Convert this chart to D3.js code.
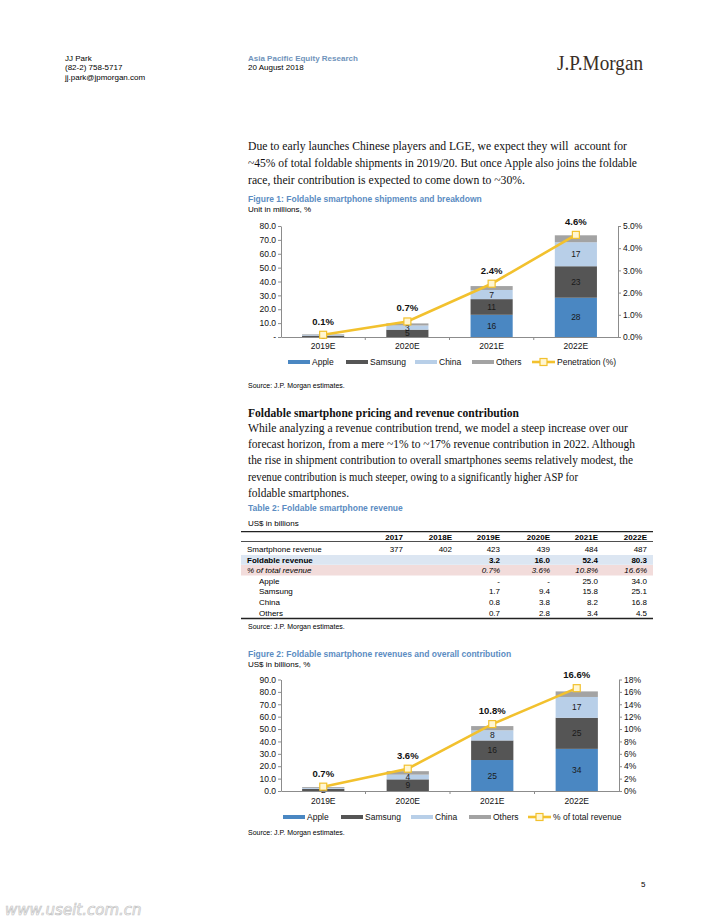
<!DOCTYPE html>
<html><head><meta charset="utf-8">
<script src="https://cdn.jsdelivr.net/npm/d3@7/dist/d3.min.js"></script>
<style>body{margin:0;background:#fff}svg{display:block}</style>
</head><body>
<svg id="page" width="714" height="924"></svg>
<script>
// ---------- DATA ----------
const categories = ["2019E", "2020E", "2021E", "2022E"];
const seriesNames = ["Apple", "Samsung", "China", "Others"];

// Figure 1: shipments (mn units) and penetration (%)
const shipApple   = [0, 0, 16, 28.3];
const shipSamsung = [1, 5.3, 11.3, 22.7];
const shipChina   = [0.6, 3, 6.6, 17.3];
const shipOthers  = [0.4, 1.5, 2.8, 5];
const shipPenetration = [0.1, 0.7, 2.4, 4.6];
const shipLeftTicks  = [0, 10, 20, 30, 40, 50, 60, 70, 80];
const shipRightTicks = [0, 1, 2, 3, 4, 5];

// Figure 2: revenues (US$ bn) and % of total revenue
const revApple   = [0, 0, 25, 34];
const revSamsung = [1.7, 9.4, 15.8, 25.1];
const revChina   = [0.8, 3.8, 8.2, 16.8];
const revOthers  = [0.7, 2.8, 3.4, 4.5];
const revShare   = [0.7, 3.6, 10.8, 16.6];
const revLeftTicks  = [0, 10, 20, 30, 40, 50, 60, 70, 80, 90];
const revRightTicks = [0, 2, 4, 6, 8, 10, 12, 14, 16, 18];

// Table 2
const tableYears = ["2017", "2018E", "2019E", "2020E", "2021E", "2022E"];
const tSmartphone = ["377", "402", "423", "439", "484", "487"];
const tFoldable   = ["", "", "3.2", "16.0", "52.4", "80.3"];
const tShare      = ["", "", "0.7%", "3.6%", "10.8%", "16.6%"];
const tApple      = ["", "", "-", "-", "25.0", "34.0"];
const tSamsung    = ["", "", "1.7", "9.4", "15.8", "25.1"];
const tChina      = ["", "", "0.8", "3.8", "8.2", "16.8"];
const tOthers     = ["", "", "0.7", "2.8", "3.4", "4.5"];

// ---------- STYLE ----------
const sans = "'Liberation Sans', Arial, sans-serif";
const serif = "'Liberation Serif', 'Times New Roman', serif";
const colors = { Apple: "#4a87c2", Samsung: "#555555", China: "#b8cfe8", Others: "#a3a3a3" };
const lineColor = "#f2c12e";
const titleBlue = "#5b8cc2";
const axisGray = "#8c8c8c";

const svg = d3.select("#page");

function txt(x, y, s, o = {}) {
  const t = svg.append("text").attr("x", x).attr("y", y).text(s)
    .attr("font-family", o.family || sans)
    .attr("font-size", o.size || 8)
    .attr("fill", o.fill || "#000");
  if (o.weight) t.attr("font-weight", o.weight);
  if (o.style) t.attr("font-style", o.style);
  if (o.anchor) t.attr("text-anchor", o.anchor);
  if (o.len) t.attr("textLength", o.len).attr("lengthAdjust", "spacingAndGlyphs");
  return t;
}

// ---------- HEADER ----------
txt(65, 61, "JJ Park", { size: 8 });
txt(65, 70, "(82-2) 758-5717", { size: 8 });
txt(65, 79.5, "jj.park@jpmorgan.com", { size: 8 });
txt(248, 60.5, "Asia Pacific Equity Research", { size: 8, weight: "bold", fill: "#6f93bb" });
txt(248, 69.5, "20 August 2018", { size: 8 });
txt(557, 69.5, "J.P.Morgan", { family: serif, size: 20, fill: "#3a2e26", len: 86 });

// ---------- BODY TEXT ----------
const body1 = [
  "Due to early launches Chinese players and LGE, we expect they will\u00a0 account for",
  "~45% of total foldable shipments in 2019/20. But once Apple also joins the foldable",
  "race, their contribution is expected to come down to ~30%."
];
const body1W = [379, 389, 277];
body1.forEach((l, i) => txt(248, 150 + i * 16.8, l, { family: serif, size: 11.7, fill: "#111", len: body1W[i] }));

txt(248, 417, "Foldable smartphone pricing and revenue contribution", { family: serif, size: 11.7, weight: "bold", fill: "#111", len: 271 });
const body2 = [
  "While analyzing a revenue contribution trend, we model a steep increase over our",
  "forecast horizon, from a mere ~1% to ~17% revenue contribution in 2022. Although",
  "the rise in shipment contribution to overall smartphones seems relatively modest, the",
  "revenue contribution is much steeper, owing to a significantly higher ASP for",
  "foldable smartphones."
];
const body2W = [380, 387, 385, 330, 101];
body2.forEach((l, i) => txt(248, 432 + i * 16.2, l, { family: serif, size: 11.7, fill: "#111", len: body2W[i] }));

// ---------- CHART ----------
function drawChart(cfg) {
  const g = svg.append("g");
  const rows = categories.map((c, i) => {
    const r = { cat: c };
    seriesNames.forEach((s, k) => r[s] = cfg.series[k][i]);
    return r;
  });
  const x = d3.scaleBand().domain(categories).range([cfg.left, cfg.right])
    .paddingInner(0.5).paddingOuter(0.25);
  const y = d3.scaleLinear().domain([0, d3.max(cfg.leftTicks)]).range([cfg.bottom, cfg.top]);
  const y2 = d3.scaleLinear().domain([0, d3.max(cfg.rightTicks)]).range([cfg.bottom, cfg.top]);
  const stacked = d3.stack().keys(seriesNames)(rows);

  // bars
  stacked.forEach(layer => {
    g.append("g").selectAll("rect").data(layer).join("rect")
      .attr("x", d => x(d.data.cat))
      .attr("width", x.bandwidth())
      .attr("y", d => y(d[1]))
      .attr("height", d => y(d[0]) - y(d[1]))
      .attr("fill", colors[layer.key]);
  });
  // bar labels
  stacked.forEach(layer => {
    if (layer.key === "Others") return;
    g.append("g").selectAll("text").data(layer.filter(d => d[1] - d[0] >= 0.5)).join("text")
      .attr("x", d => x(d.data.cat) + x.bandwidth() / 2)
      .attr("y", d => (y(d[0]) + y(d[1])) / 2 + 3)
      .attr("text-anchor", "middle")
      .attr("font-family", sans).attr("font-size", 8.5).attr("fill", "#1a1a1a")
      .text(d => Math.round(d[1] - d[0]));
  });

  // axes
  const ax = g.append("g").attr("transform", `translate(${cfg.left},0)`)
    .call(d3.axisLeft(y).tickValues(cfg.leftTicks).tickSizeInner(3).tickSizeOuter(0).tickPadding(2)
      .tickFormat(cfg.leftFormat));
  const ax2 = g.append("g").attr("transform", `translate(${cfg.right},0)`)
    .call(d3.axisRight(y2).tickValues(cfg.rightTicks).tickSizeInner(3).tickSizeOuter(0).tickPadding(2)
      .tickFormat(cfg.rightFormat));
  const axb = g.append("g").attr("transform", `translate(0,${cfg.bottom})`)
    .call(d3.axisBottom(x).tickSize(0).tickPadding(cfg.xPad));
  [ax, ax2, axb].forEach(a => {
    a.selectAll("path.domain").attr("stroke", axisGray);
    a.selectAll("line").attr("stroke", axisGray);
    a.selectAll("text").attr("font-family", sans).attr("font-size", 8.5).attr("fill", "#111");
  });
  // category boundary ticks
  const bounds = categories.slice(0, -1).map(c => x(c) + x.bandwidth() + (x.step() - x.bandwidth()) / 2);
  g.append("g").selectAll("line").data(bounds).join("line")
    .attr("x1", d => d).attr("x2", d => d)
    .attr("y1", cfg.bottom).attr("y2", cfg.bottom + 3)
    .attr("stroke", axisGray);

  // line
  const pts = categories.map((c, i) => [x(c) + x.bandwidth() / 2, y2(cfg.line[i]), cfg.line[i]]);
  g.append("path").datum(pts)
    .attr("d", d3.line().x(d => d[0]).y(d => d[1]))
    .attr("fill", "none").attr("stroke", lineColor).attr("stroke-width", 2.6);
  g.append("g").selectAll("rect").data(pts).join("rect")
    .attr("x", d => d[0] - 3.5).attr("y", d => d[1] - 3.5)
    .attr("width", 7).attr("height", 7)
    .attr("fill", "#fff6d2").attr("stroke", lineColor).attr("stroke-width", 1.2);
  g.append("g").selectAll("text").data(pts).join("text")
    .attr("x", d => d[0]).attr("y", d => d[1] - 10)
    .attr("text-anchor", "middle")
    .attr("font-family", sans).attr("font-size", 9.5).attr("font-weight", "bold").attr("fill", "#111")
    .text(d => d[2].toFixed(1) + "%");

  // legend
  const ly = cfg.legendY;
  seriesNames.forEach((s, k) => {
    const lx = cfg.legendX[k];
    g.append("rect").attr("x", lx).attr("y", ly - 2).attr("width", 22).attr("height", 4).attr("fill", colors[s]);
    g.append("text").attr("x", lx + 24).attr("y", ly + 3).text(s)
      .attr("font-family", sans).attr("font-size", 8.5).attr("fill", "#111");
  });
  const llx = cfg.legendX[4];
  g.append("line").attr("x1", llx).attr("x2", llx + 23).attr("y1", ly).attr("y2", ly)
    .attr("stroke", lineColor).attr("stroke-width", 2.6);
  g.append("rect").attr("x", llx + 8).attr("y", ly - 3.5).attr("width", 7).attr("height", 7)
    .attr("fill", "#fff6d2").attr("stroke", lineColor).attr("stroke-width", 1.2);
  g.append("text").attr("x", llx + 25).attr("y", ly + 3).text(cfg.lineName)
    .attr("font-family", sans).attr("font-size", 8.5).attr("fill", "#111");
}

// Figure 1
txt(248, 201.5, "Figure 1: Foldable smartphone shipments and breakdown", { size: 8.5, weight: "bold", fill: titleBlue });
txt(248, 212, "Unit in millions, %", { size: 8 });
drawChart({
  series: [shipApple, shipSamsung, shipChina, shipOthers],
  line: shipPenetration, lineName: "Penetration (%)",
  leftTicks: shipLeftTicks, rightTicks: shipRightTicks,
  leftFormat: d => d === 0 ? "-" : d.toFixed(1),
  rightFormat: d => d.toFixed(1) + "%",
  left: 281, right: 618, top: 226, bottom: 337, xPad: 6,
  legendY: 362, legendX: [288, 346, 415, 472, 532]
});
txt(248, 388, "Source: J.P. Morgan estimates.", { size: 7 });

// Table 2
txt(248, 510.5, "Table 2: Foldable smartphone revenue", { size: 8.5, weight: "bold", fill: titleBlue });
txt(248, 526, "US$ in billions", { size: 8 });
const colRight = [403, 452, 500, 550, 598, 647];
const tl = 241, tr = 653;
svg.append("rect").attr("x", tl).attr("y", 555).attr("width", tr - tl).attr("height", 9.8).attr("fill", "#dce6f2");
svg.append("rect").attr("x", tl).attr("y", 565).attr("width", tr - tl).attr("height", 10.5).attr("fill", "#f2dcdb");
svg.append("line").attr("x1", tl).attr("x2", tr).attr("y1", 531.7).attr("y2", 531.7).attr("stroke", "#222").attr("stroke-width", 1.3);
svg.append("line").attr("x1", tl).attr("x2", tr).attr("y1", 541.5).attr("y2", 541.5).attr("stroke", "#222").attr("stroke-width", 0.8);
svg.append("line").attr("x1", tl).attr("x2", tr).attr("y1", 618.5).attr("y2", 618.5).attr("stroke", "#222").attr("stroke-width", 1.3);
tableYears.forEach((yv, i) => txt(colRight[i], 539.5, yv, { size: 8, weight: "bold", anchor: "end" }));
const tableRows = [
  { label: "Smartphone revenue", vals: tSmartphone, x: 247 },
  { label: "Foldable revenue", vals: tFoldable, x: 247, weight: "bold" },
  { label: "% of total revenue", vals: tShare, x: 247, style: "italic" },
  { label: "Apple", vals: tApple, x: 259 },
  { label: "Samsung", vals: tSamsung, x: 259 },
  { label: "China", vals: tChina, x: 259 },
  { label: "Others", vals: tOthers, x: 259 }
];
const rowY = [552, 562.5, 573, 583.7, 594.2, 604.8, 615.5];
tableRows.forEach((r, k) => {
  txt(r.x, rowY[k], r.label, { size: 8, weight: r.weight, style: r.style });
  r.vals.forEach((v, i) => { if (v) txt(colRight[i], rowY[k], v, { size: 8, weight: r.weight, style: r.style, anchor: "end" }); });
});
txt(248, 629, "Source: J.P. Morgan estimates.", { size: 7 });

// Figure 2
txt(248, 656.5, "Figure 2: Foldable smartphone revenues and overall contribution", { size: 8.5, weight: "bold", fill: titleBlue });
txt(248, 666.8, "US$ in billions, %", { size: 8 });
drawChart({
  series: [revApple, revSamsung, revChina, revOthers],
  line: revShare, lineName: "% of total revenue",
  leftTicks: revLeftTicks, rightTicks: revRightTicks,
  leftFormat: d => d.toFixed(1),
  rightFormat: d => d + "%",
  left: 281, right: 619, top: 679.5, bottom: 791, xPad: 7,
  legendY: 817, legendX: [283, 341, 411, 469, 528]
});
txt(248, 834.5, "Source: J.P. Morgan estimates.", { size: 7 });

// footer
txt(641, 887, "5", { size: 8 });
txt(5, 915, "www.useit.com.cn", { family: "'DejaVu Sans', sans-serif", size: 15, style: "italic", fill: "#fff" })
  .attr("stroke", "#c4c4c4").attr("stroke-width", 0.7);
</script>
</body></html>
